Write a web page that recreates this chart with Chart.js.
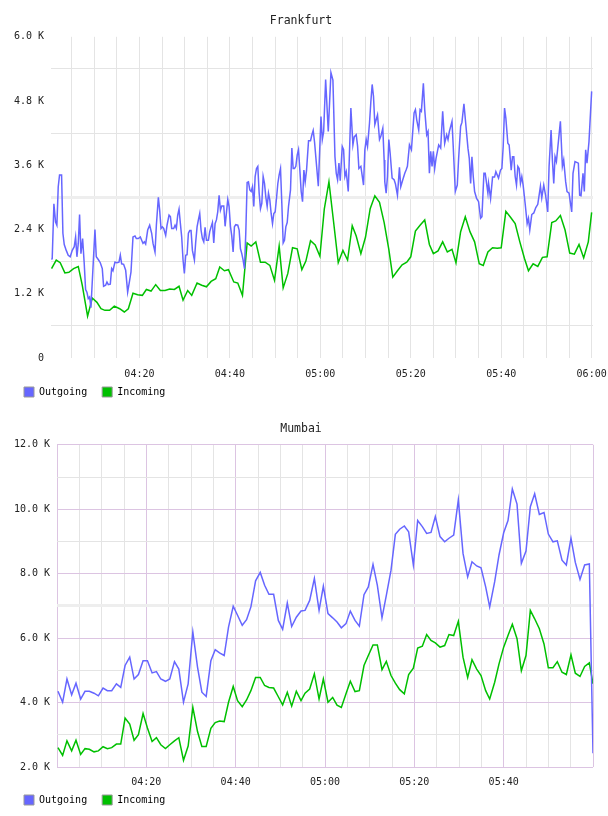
<!DOCTYPE html>
<html>
<head>
<meta charset="utf-8">
<script src="https://cdn.jsdelivr.net/npm/chart.js@4.4.1/dist/chart.umd.min.js"></script>
<style>
  html, body { margin: 0; background: #fff; overflow: hidden; }
  canvas { display: block; position: absolute; left: 0; }
  #frankfurt { top: 0; }
  #mumbai { top: 407px; }
</style>
</head>
<body>
<canvas id="frankfurt" width="608" height="415"></canvas>
<canvas id="mumbai" width="608" height="416"></canvas>
<script>
// time values are minutes after 04:00
const seriesNames = ["Outgoing", "Incoming"];
const seriesColors = ["#6666ff", "#00c000"];

const frankfurtOutTimes = [
  0.57, 0.72, 1.09, 1.46, 1.75, 2.05, 2.34, 2.79, 3.08, 3.38, 3.82, 4.26, 4.70, 5.15, 5.59, 5.89,
  6.18, 6.48, 6.77, 7.07, 7.44, 7.80, 8.10, 8.39, 8.69, 8.98, 9.28, 10.17, 10.46, 10.90, 11.35,
  11.79, 12.08, 12.53, 12.82, 13.12, 13.56, 13.86, 14.15, 14.59, 15.04, 15.48, 15.78, 16.07,
  16.51, 16.96, 17.40, 17.84, 18.14, 18.58, 19.02, 19.32, 19.76, 20.20, 20.50, 20.79, 21.09,
  21.38, 21.83, 22.27, 22.71, 23.01, 23.45, 23.75, 24.19, 24.48, 24.78, 25.07, 25.37, 25.81,
  26.11, 26.55, 26.85, 27.14, 27.58, 27.88, 28.17, 28.47, 28.76, 29.06, 29.35, 29.65, 29.94,
  30.24, 30.54, 30.83, 31.13, 31.42, 31.72, 32.16, 32.45, 32.75, 33.04, 33.34, 33.63, 33.93,
  34.23, 34.52, 34.82, 35.26, 35.55, 35.85, 36.14, 36.44, 36.73, 37.03, 37.32, 37.62, 37.92,
  38.21, 38.65, 38.95, 39.24, 39.54, 39.83, 40.13, 40.42, 40.72, 41.01, 41.31, 41.75, 42.05,
  42.34, 42.64, 42.93, 43.23, 43.52, 43.82, 44.11, 44.41, 44.71, 45.00, 45.29, 45.59, 45.89,
  46.18, 46.48, 46.77, 47.07, 47.36, 47.66, 47.95, 48.25, 48.54, 48.84, 49.13, 49.43, 49.72,
  50.02, 50.31, 50.61, 50.90, 51.20, 51.49, 51.79, 52.08, 52.38, 52.68, 52.97, 53.41, 53.71,
  54.00, 54.30, 54.59, 54.89, 55.18, 55.48, 55.77, 56.07, 56.37, 56.66, 56.96, 57.40, 57.84,
  58.14, 58.43, 58.73,
  59.56, 60.15, 60.44, 60.74, 61.18, 61.76, 62.35, 62.79, 63.24, 63.53, 63.82, 64.12, 64.41,
  64.85, 65.15, 65.44, 65.74, 66.18, 66.76, 67.21, 67.50, 67.94, 68.24, 68.53, 68.97, 69.56,
  69.85, 70.15, 70.44, 70.88, 71.18, 71.47, 71.76, 72.06, 72.35, 72.65, 73.09, 73.38, 73.82,
  74.12, 74.26, 74.56, 74.85, 75.15, 75.44, 75.88, 76.32, 76.62, 77.06, 77.50, 77.79, 78.24,
  78.68, 78.97, 79.26, 79.71, 80.15, 80.74, 81.03, 81.32, 81.76, 82.06, 82.35, 82.79, 83.09,
  83.53, 83.82, 84.12, 84.41, 84.71, 85.00, 85.29, 85.59, 86.18, 86.62, 87.06, 87.50, 87.94,
  88.24, 88.53, 89.12, 89.41, 89.85, 90.29, 90.59, 91.03, 91.32, 91.76, 92.21, 92.65, 92.94,
  93.24, 93.53, 93.82, 94.12, 94.56, 95.00, 95.44, 95.74, 96.18, 96.47, 97.06, 97.21, 97.65,
  98.09, 98.53, 98.82, 99.41, 99.85, 100.15, 100.44, 100.74, 101.03, 101.47, 101.76, 102.21,
  102.50, 102.79, 103.09, 103.38, 103.68, 103.97, 104.26, 104.56, 104.85, 105.29, 105.74,
  106.03, 106.32, 106.76, 107.21, 107.65, 108.09, 108.68, 108.97, 109.41, 109.85, 110.29,
  110.59, 111.03, 111.32, 111.62, 111.91, 112.21, 113.09, 113.53, 113.82, 114.26, 114.56,
  115.00, 115.59, 115.88, 116.32, 117.06, 117.35, 117.65, 118.09, 118.38, 118.68, 118.97,
  119.41, 120.00
];
const frankfurtOutValues = [
  1840, 1860, 2880, 2540, 2480, 3200, 3420, 3420, 2330, 2120, 2010, 1920, 1890, 2010, 2080, 2260,
  1890, 2140, 2680, 1950, 2230, 1760, 1280, 1230, 1110, 1140, 940, 2400, 1890, 1840, 1780,
  1670, 1340, 1360, 1420, 1370, 1380, 1670, 1630, 1790, 1780, 1790, 1920, 1760,
  1750, 1640, 1230, 1450, 1610, 2260, 2280, 2230, 2230, 2260, 2200, 2140, 2170,
  2130, 2390, 2480, 2330, 2140, 1980, 2480, 3000, 2760, 2420, 2450, 2420, 2290,
  2480, 2670, 2640, 2420, 2420, 2480, 2420, 2670, 2780, 2510, 2260, 1830, 1580,
  1920, 1930, 2330, 2380, 2380, 2010, 1830, 2170, 2450, 2580, 2700, 2390, 2230,
  2170, 2440, 2200, 2200, 2360, 2450, 2530, 2150, 2510, 2580, 2730, 3040, 2760,
  2840, 2840, 2460, 2710, 2960, 2830, 2460, 2280, 1980, 2450, 2490, 2480, 2390,
  2040, 1950, 1830, 1670, 2330, 3280, 3290, 3140, 3110, 3200, 2830, 3390, 3540,
  3580, 3080, 2790, 2890, 3390, 3260, 3010, 2830, 3080, 2950, 2700, 2510, 2700,
  2730, 2980, 3260, 3420, 3540, 2890, 2150, 2200, 2450, 2530, 2830, 3140, 3920,
  3540, 3540, 3580, 3790, 3890, 3510, 3110, 2920, 3510, 3290, 3510, 4060, 4060,
  4170, 4250, 4030,
  3210, 4510, 4080, 4230, 5200, 4230, 5330, 5190, 3760, 3450, 3330, 3640, 3310,
  3950, 3890, 3390, 3480, 3110, 4670, 3980, 4130, 4170, 3960, 3540, 3580, 3230,
  3890, 4080, 3950, 4390, 4790, 5110, 4890, 4360, 4450, 4540, 4080, 4140, 4290,
  3700, 3290, 3080, 3390, 4080, 3830, 3360, 3330, 3250, 3040, 3560, 3200, 3330,
  3450, 3510, 3580, 3980, 3890, 4580, 4640, 4450, 4260, 4640, 4610, 5130, 4640,
  4170, 4230, 3450, 3860, 3580, 3860, 3540, 3730, 3980, 3920, 4610, 4010, 4170,
  4080, 4230, 4420, 3920, 3110, 3230, 3730, 4330, 4400, 4750, 4330, 3920, 3730,
  3260, 3760, 3390, 3110, 2980, 2920, 2610, 2640, 3450, 3450, 3080, 3260, 2980,
  3380, 3380, 3480, 3360, 3510, 3540, 3950, 4670, 4480, 4010, 3980, 3510,
  3760, 3760, 3390, 3230, 3580, 3540, 3260, 3390, 3230, 2890, 2510,
  2610, 2390, 2680, 2710, 2810, 2870, 3210, 2990, 3230, 3020, 2730,
  3580, 4260, 3700, 3260, 3760, 3670, 4420, 3580, 3700, 3290, 3110,
  3080, 2730, 3450, 3670, 3640, 3040, 3030, 3450, 3110, 3890, 3640,
  4040, 4980
];

const frankfurtInTimes = [
  0.57, 1.61, 2.49, 3.52, 4.41, 5.44, 6.48, 7.36, 8.54, 9.58, 10.61, 11.50, 12.38, 13.41, 14.45,
  15.63, 16.66, 17.55, 18.58, 19.61, 20.65, 21.54, 22.57, 23.60, 24.63, 25.67, 26.70, 27.73,
  28.76, 29.65, 30.68, 31.57, 32.75, 33.78, 34.82, 35.85, 36.88, 37.77, 38.80, 39.69, 40.87,
  41.75, 42.79, 43.82, 44.71, 45.74, 46.77, 47.80, 48.84, 49.87, 50.90, 51.79, 52.82, 53.86,
  54.89, 55.92, 56.81, 57.84, 58.87, 59.91, 60.88, 61.91, 62.94, 63.97, 65.00, 66.03, 67.06,
  67.94, 68.97, 70.00, 71.03, 72.06, 73.09, 74.12, 75.15, 76.03, 77.06, 78.09, 79.12, 80.00,
  81.03, 82.06, 83.09, 84.12, 85.00, 86.03, 87.06, 88.09, 89.12, 90.00, 91.03, 92.06, 93.09,
  94.12, 95.15, 96.03, 97.06, 98.09, 99.12, 100.00, 101.03, 102.06, 103.09, 104.12, 105.15,
  106.03, 107.06, 108.09, 109.12, 110.15, 111.18, 112.06, 113.09, 114.12, 115.15, 116.18,
  117.21, 118.24, 119.26, 120.00
];
const frankfurtInValues = [
  1670, 1830, 1780, 1590, 1600, 1670, 1710, 1360, 780, 1120, 1040, 920, 890, 890, 970,
  920, 860, 920, 1210, 1180, 1170, 1280, 1250, 1370, 1260, 1260, 1290, 1280,
  1340, 1080, 1260, 1170, 1400, 1360, 1330, 1430, 1480, 1700, 1630, 1650, 1420,
  1400, 1170, 2150, 2090, 2170, 1790, 1790, 1730, 1450, 2090, 1310, 1580, 2060,
  2040, 1650, 1810, 2190, 2110, 1900, 2780, 3290, 2540, 1780, 2010, 1830, 2470,
  2280, 1950, 2260, 2790, 3030, 2910, 2530, 2030, 1510, 1630, 1740, 1790, 1890,
  2370, 2480, 2580, 2120, 1950, 2000, 2170, 1980, 2030, 1780, 2360, 2640, 2360,
  2170, 1760, 1730, 1980, 2060, 2050, 2060, 2740, 2630, 2510, 2170, 1860,
  1630, 1760, 1710, 1880, 1890, 2530, 2560, 2660, 2390, 1960, 1940,
  2120, 1870, 2170, 2720
];

const mumbaiTimes = [
  0.22, 1.26, 2.23, 3.28, 4.25, 5.30, 6.27, 7.24, 8.29, 9.26, 10.31, 11.28, 12.25, 13.30, 14.27,
  15.24, 16.28, 17.26, 18.23, 19.27, 20.25, 21.29, 22.26, 23.24, 24.28, 25.25, 26.30, 27.27,
  28.32, 29.36, 30.41, 31.46, 32.43, 33.40, 34.45, 35.42, 36.39, 37.43, 38.40, 39.45, 40.42,
  41.47, 42.44, 43.41, 44.46, 45.50, 46.48, 47.45, 48.50, 49.55, 50.52, 51.56, 52.54, 53.58,
  54.63, 55.53, 56.57, 57.62, 58.67, 59.63, 60.67, 61.72, 62.69, 63.66, 64.70, 65.67, 66.72,
  67.69, 68.73, 69.70, 70.75, 71.72, 72.76, 73.73, 74.78, 75.75, 76.72, 77.76, 78.73, 79.78,
  80.75, 81.79, 82.76, 83.73, 84.70, 85.75, 86.79, 87.76, 88.81, 89.85, 90.90, 91.94, 92.91,
  93.96, 94.93, 95.97, 96.87, 97.99, 98.96, 100.00, 100.97, 101.94, 102.99, 103.96, 105.00,
  105.97, 106.94, 107.99, 109.03, 110.00, 111.04, 112.01, 113.06, 114.03, 115.07, 116.04,
  117.09, 118.13, 119.18, 120.00
];
const mumbaiOutValues = [
  4350, 4010, 4730, 4240, 4600, 4110, 4350, 4350, 4290, 4210, 4450, 4370, 4370, 4580, 4470,
  5150, 5410, 4730, 4870, 5300, 5300, 4920, 4960, 4730, 4660, 4730, 5270, 5040,
  4010, 4580, 6190, 5100, 4320, 4190, 5300, 5640, 5540, 5460, 6340, 6990, 6710,
  6400, 6570, 6970, 7780, 8040, 7640, 7360, 7360, 6550, 6270, 7090, 6360, 6650,
  6840, 6860, 7170, 7850, 6860, 7610, 6760, 6630, 6500, 6320, 6450, 6840, 6550,
  6370, 7350, 7590, 8290, 7640, 6630, 7330, 8110, 9220, 9380, 9480, 9300, 8270,
  9650, 9460, 9250, 9280, 9770, 9150, 8990, 9100, 9200, 10290, 8630, 7900, 8370,
  8240, 8180, 7590, 6970, 7750, 8580, 9270, 9650, 10630, 10160, 8320, 8700,
  10080, 10480, 9840, 9900, 9230, 8990, 9020, 8420, 8270, 9100, 8350,
  7820, 8270, 8300, 2430
];
const mumbaiInValues = [
  2600, 2360, 2810, 2500, 2830, 2390, 2570, 2550, 2470, 2500, 2630, 2570, 2600, 2710, 2710,
  3520, 3330, 2830, 3000, 3660, 3210, 2790, 2910, 2690, 2570, 2690, 2810, 2910,
  2210, 2650, 3850, 3100, 2640, 2640, 3200, 3380, 3430, 3410, 4010, 4500, 4060,
  3870, 4080, 4370, 4780, 4780, 4530, 4470, 4450, 4180, 3930, 4320, 3890, 4350,
  4060, 4290, 4420, 4890, 4110, 4730, 4010, 4160, 3920, 3850, 4270, 4660, 4340,
  4370, 5150, 5460, 5790, 5790, 5020, 5280, 4840, 4600, 4400, 4270, 4870, 5070,
  5690, 5750, 6110, 5930, 5850, 5720, 5770, 6110, 6080, 6520, 5410, 4780, 5330,
  5040, 4840, 4370, 4110, 4630, 5200, 5720, 6080, 6430, 5980, 4990, 5460,
  6860, 6600, 6290, 5820, 5080, 5080, 5270, 4940, 4870, 5480, 4910,
  4810, 5120, 5230, 4580
];

Chart.defaults.font.family = "'DejaVu Sans Mono', monospace";
Chart.defaults.font.size = 10;
Chart.defaults.color = "#333";

// the legend sits tight under the time labels, closer than chart.js spaces it
const liftLegend = {
  id: "liftLegend",
  afterLayout(chart, args, opts) {
    chart.legend.top -= opts.by;
    chart.legend.bottom -= opts.by;
  },
};

function points(times, values) {
  return times.map((t, i) => ({ x: t, y: values[i] }));
}

function clock(m) {
  const h = 4 + Math.floor(m / 60);
  const mm = Math.round(m % 60);
  return String(h).padStart(2, "0") + ":" + String(mm).padStart(2, "0");
}

function kilo(v) {
  return v === 0 ? "0" : (v / 1000).toFixed(1) + " K";
}

function buildChart(id, s) {
  new Chart(document.getElementById(id), {
    type: "line",
    data: {
      datasets: s.series.map((pts, i) => ({
        label: seriesNames[i],
        data: pts,
        borderColor: seriesColors[i],
        borderWidth: 1.5,
        pointRadius: 0,
        tension: 0,
        fill: false,
      })),
    },
    plugins: [liftLegend],
    options: {
      responsive: false,
      animation: false,
      events: [],
      layout: { padding: { left: 9, right: 15, top: 0, bottom: 0 } },
      scales: {
        x: {
          type: "linear",
          min: s.xMin,
          max: s.xMax,
          afterFit: (scale) => { scale.height = s.xAxisHeight; },
          border: { display: false },
          grid: {
            // invisible tick marks give the label gap without extra right padding
            drawTicks: true,
            tickLength: s.xPad,
            tickColor: "rgba(0,0,0,0)",
            color: (ctx) => s.xGrid(Math.round(ctx.tick.value)),
          },
          ticks: {
            stepSize: 5,
            includeBounds: false,
            autoSkip: false,
            maxRotation: 0,
            padding: 0,
            color: "#222",
            callback: (v) => (s.xLabel(Math.round(v)) ? clock(v) : ""),
          },
        },
        y: {
          min: s.yMin,
          max: s.yMax,
          afterFit: (scale) => { scale.width = s.yAxisWidth; },
          border: { display: false },
          grid: {
            drawTicks: false,
            color: (ctx) => s.yGrid(Math.round(ctx.tick.value)),
            lineWidth: (ctx) => (Math.round(ctx.tick.value) === s.yBand ? 3 : 1),
          },
          ticks: {
            stepSize: s.yStep,
            padding: 7,
            color: "#222",
            callback: (v) => (Math.round(v) % s.yLabelStep === 0 ? kilo(Math.round(v)) : ""),
          },
        },
      },
      plugins: {
        tooltip: { enabled: false },
        liftLegend: { by: 8 },
        title: {
          display: true,
          text: s.title,
          color: "#222",
          font: { size: 11.5, weight: "normal" },
          padding: { top: s.titleTop, bottom: 9 },
        },
        legend: {
          position: "bottom",
          align: "start",
          labels: {
            boxWidth: 10,
            boxHeight: 10,
            padding: 15,
            color: "#222",
            font: { size: 10 },
            generateLabels: (chart) =>
              chart.data.datasets.map((ds, i) => ({
                text: ds.label,
                fillStyle: ds.borderColor,
                strokeStyle: "#999",
                lineWidth: 1,
                hidden: false,
                datasetIndex: i,
              })),
          },
        },
      },
    },
  });
}

const grayLine = "#e4e4e4";
const purpleLine = "#dcc4e2";

buildChart("frankfurt", {
  title: "Frankfurt",
  series: [points(frankfurtOutTimes, frankfurtOutValues), points(frankfurtInTimes, frankfurtInValues)],
  xMin: 0.45, xMax: 120.3,
  yMin: 0, yMax: 6000, yStep: 600, yLabelStep: 1200, yBand: 3000,
  yAxisWidth: 42, xAxisHeight: 22, xPad: 10, titleTop: 14,
  xLabel: (m) => m % 20 === 0 && m > 0,
  xGrid: () => grayLine,
  yGrid: (v) => (v === 3000 ? "#eeeeee" : v % 1200 === 0 ? "rgba(0,0,0,0)" : grayLine),
});

buildChart("mumbai", {
  title: "Mumbai",
  series: [points(mumbaiTimes, mumbaiOutValues), points(mumbaiTimes, mumbaiInValues)],
  xMin: 0, xMax: 120,
  yMin: 2000, yMax: 12000, yStep: 1000, yLabelStep: 2000, yBand: 7000,
  yAxisWidth: 48, xAxisHeight: 21, xPad: 9, titleTop: 15,
  xLabel: (m) => m % 20 === 0 && m > 0 && m < 120,
  xGrid: (m) => (m % 20 === 0 ? purpleLine : grayLine),
  yGrid: (v) => (v === 7000 ? "#eeeeee" : v % 2000 === 0 ? purpleLine : grayLine),
});
</script>
</body>
</html>
